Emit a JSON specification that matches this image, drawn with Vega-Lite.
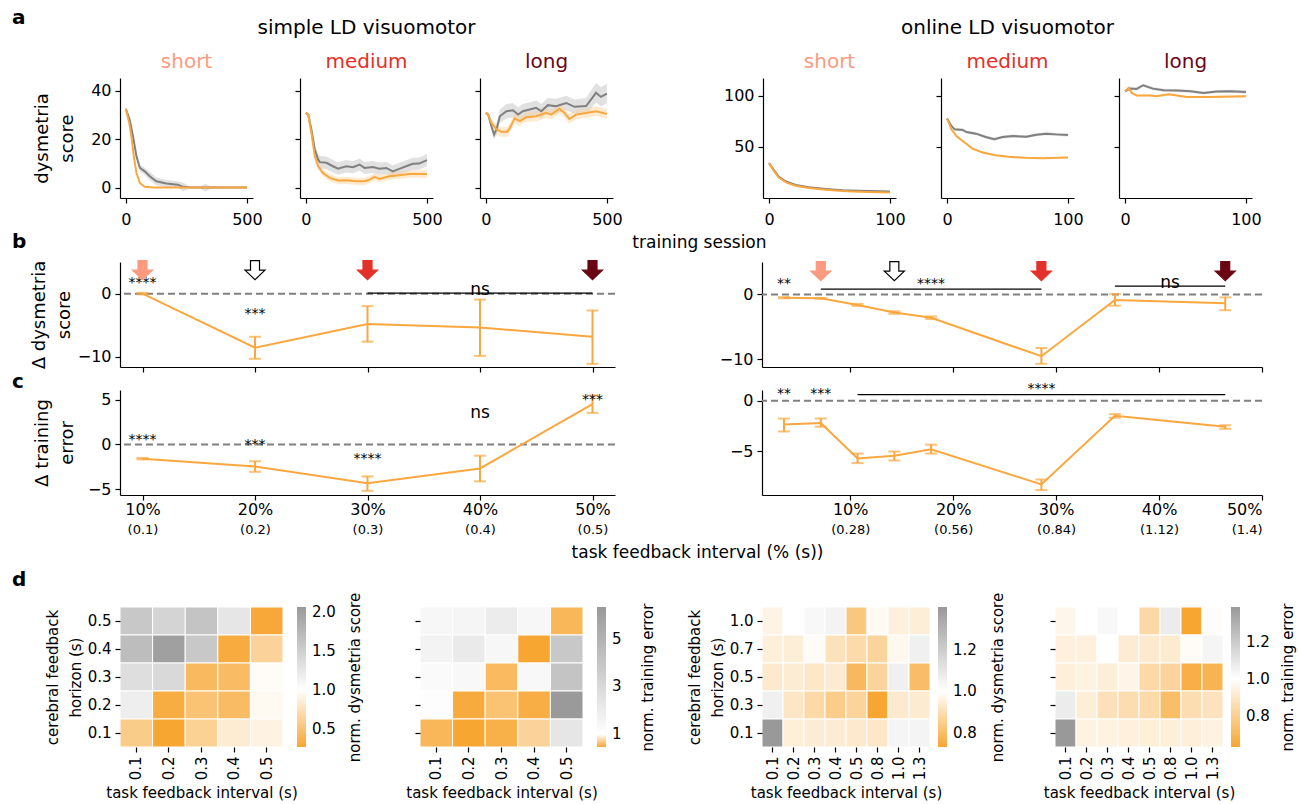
{
"$schema":"https://vega.github.io/schema/vega-lite/v6.json",
"background":"white",
"padding":{"left":12,"top":8,"right":2,"bottom":2},
"title":{"text":"a","anchor":"start","frame":"group","dx":-108,"fontWeight":"bold","fontSize":20,"offset":-10},
"config":{
 "font":"DejaVu Sans",
 "view":{"stroke":null},
 "axis":{"labelFont":"DejaVu Sans","labelFontSize":16,"labelColor":"#000","titleFont":"DejaVu Sans","titleFontSize":17,"titleFontWeight":"normal","titleColor":"#000","tickColor":"#000","domainColor":"#000","grid":false,"tickSize":5,"labelPadding":4,"domainWidth":1.2,"tickWidth":1.2},
 "title":{"font":"DejaVu Sans","fontSize":20,"fontWeight":"normal","color":"#000","subtitleFont":"DejaVu Sans","frame":"group"},
 "legend":{"labelFont":"DejaVu Sans","labelFontSize":15,"labelColor":"#000"},
 "text":{"font":"DejaVu Sans"}
},
"datasets":{
"s_short":[
{"model":"grey","t":0,"m":32.5,"lo":32,"hi":33},{"model":"grey","t":16,"m":28,"lo":27.2,"hi":28.8},{"model":"grey","t":30,"m":21,"lo":20,"hi":22},{"model":"grey","t":44,"m":12.9,"lo":11.7,"hi":14.1},{"model":"grey","t":58,"m":8.1,"lo":6.8,"hi":9.4},{"model":"grey","t":78,"m":6.7,"lo":5.2,"hi":8.2},{"model":"grey","t":99,"m":4.7,"lo":3,"hi":6.4},{"model":"grey","t":126,"m":2.6,"lo":1,"hi":4.2},{"model":"grey","t":167,"m":1.65,"lo":0.2,"hi":3.1},{"model":"grey","t":215,"m":1.2,"lo":-0.2,"hi":2.6},{"model":"grey","t":236,"m":0.3,"lo":-1.5,"hi":2},{"model":"grey","t":260,"m":0.1,"lo":-0.6,"hi":0.8},{"model":"grey","t":304,"m":0,"lo":-0.4,"hi":0.4},{"model":"grey","t":330,"m":0,"lo":-1.6,"hi":1.6},{"model":"grey","t":350,"m":0,"lo":-0.4,"hi":0.4},{"model":"grey","t":400,"m":0,"lo":-0.2,"hi":0.2},{"model":"grey","t":500,"m":0,"lo":-0.1,"hi":0.1},
{"model":"orange","t":0,"m":32.5,"lo":32.2,"hi":32.8},{"model":"orange","t":14,"m":26.7,"lo":26.3,"hi":27.1},{"model":"orange","t":23,"m":21.2,"lo":20.7,"hi":21.7},{"model":"orange","t":33,"m":12.9,"lo":12.4,"hi":13.4},{"model":"orange","t":44,"m":6,"lo":5.6,"hi":6.4},{"model":"orange","t":58,"m":1.9,"lo":1.6,"hi":2.2},{"model":"orange","t":78,"m":0.3,"lo":0.1,"hi":0.5},{"model":"orange","t":112,"m":0,"lo":-0.1,"hi":0.1},{"model":"orange","t":200,"m":0,"lo":-0.1,"hi":0.1},{"model":"orange","t":300,"m":0,"lo":-0.1,"hi":0.1},{"model":"orange","t":400,"m":0,"lo":-0.1,"hi":0.1},{"model":"orange","t":500,"m":0,"lo":-0.1,"hi":0.1}],
"s_medium":[
{"model":"grey","t":0,"m":30.8,"lo":30.3,"hi":31.3},{"model":"grey","t":10,"m":30.1,"lo":29.4,"hi":30.8},{"model":"grey","t":23,"m":24,"lo":22.8,"hi":25.2},{"model":"grey","t":37,"m":15.7,"lo":13.9,"hi":17.5},{"model":"grey","t":51,"m":11.6,"lo":9.4,"hi":13.8},{"model":"grey","t":58,"m":10.5,"lo":8,"hi":13},{"model":"grey","t":85,"m":10.2,"lo":7.6,"hi":12.8},{"model":"grey","t":112,"m":8.8,"lo":6.2,"hi":11.4},{"model":"grey","t":133,"m":7.8,"lo":5.3,"hi":10.3},{"model":"grey","t":167,"m":8.8,"lo":6.2,"hi":11.4},{"model":"grey","t":195,"m":8.4,"lo":5.9,"hi":10.9},{"model":"grey","t":222,"m":9.5,"lo":7,"hi":12},{"model":"grey","t":242,"m":8.1,"lo":5.6,"hi":10.6},{"model":"grey","t":277,"m":8.5,"lo":6,"hi":11},{"model":"grey","t":304,"m":7.8,"lo":5.3,"hi":10.3},{"model":"grey","t":332,"m":8.1,"lo":5.6,"hi":10.6},{"model":"grey","t":359,"m":6.7,"lo":4.2,"hi":9.2},{"model":"grey","t":386,"m":7.7,"lo":5.2,"hi":10.2},{"model":"grey","t":414,"m":8.8,"lo":6.3,"hi":11.3},{"model":"grey","t":441,"m":9.8,"lo":7.3,"hi":12.3},{"model":"grey","t":468,"m":9.9,"lo":7.4,"hi":12.4},{"model":"grey","t":500,"m":11.3,"lo":8.8,"hi":13.8},
{"model":"orange","t":0,"m":30.8,"lo":30.5,"hi":31.1},{"model":"orange","t":10,"m":30.1,"lo":29.6,"hi":30.6},{"model":"orange","t":23,"m":22.6,"lo":21.8,"hi":23.4},{"model":"orange","t":37,"m":12.9,"lo":11.9,"hi":13.9},{"model":"orange","t":51,"m":8.8,"lo":7.5,"hi":10.1},{"model":"orange","t":71,"m":6,"lo":4.6,"hi":7.4},{"model":"orange","t":99,"m":4,"lo":2.5,"hi":5.5},{"model":"orange","t":133,"m":2.9,"lo":1.4,"hi":4.4},{"model":"orange","t":167,"m":3,"lo":1.5,"hi":4.5},{"model":"orange","t":208,"m":2.6,"lo":1.1,"hi":4.1},{"model":"orange","t":242,"m":2.6,"lo":1.1,"hi":4.1},{"model":"orange","t":263,"m":3.3,"lo":1.8,"hi":4.8},{"model":"orange","t":284,"m":4.4,"lo":2.9,"hi":5.9},{"model":"orange","t":304,"m":3.6,"lo":2.1,"hi":5.1},{"model":"orange","t":345,"m":4.7,"lo":3.2,"hi":6.2},{"model":"orange","t":386,"m":5.1,"lo":3.6,"hi":6.6},{"model":"orange","t":427,"m":5.6,"lo":4.1,"hi":7.1},{"model":"orange","t":500,"m":5.6,"lo":4.1,"hi":7.1}],
"s_long":[
{"model":"grey","t":0,"m":30.8,"lo":30.3,"hi":31.3},{"model":"grey","t":10,"m":30.1,"lo":29.3,"hi":30.9},{"model":"grey","t":23,"m":25.3,"lo":23.8,"hi":26.8},{"model":"grey","t":34,"m":21.9,"lo":20,"hi":23.8},{"model":"grey","t":44,"m":24,"lo":21.5,"hi":26.5},{"model":"grey","t":58,"m":29.4,"lo":26.6,"hi":32.2},{"model":"grey","t":85,"m":31.5,"lo":28.5,"hi":34.5},{"model":"grey","t":112,"m":31.9,"lo":28.9,"hi":34.9},{"model":"grey","t":133,"m":30.1,"lo":27.1,"hi":33.1},{"model":"grey","t":153,"m":31.5,"lo":28.5,"hi":34.5},{"model":"grey","t":181,"m":32.2,"lo":29.2,"hi":35.2},{"model":"grey","t":208,"m":32.9,"lo":29.9,"hi":35.9},{"model":"grey","t":229,"m":31.5,"lo":28.5,"hi":34.5},{"model":"grey","t":256,"m":34,"lo":31,"hi":37},{"model":"grey","t":290,"m":33.6,"lo":30.6,"hi":36.6},{"model":"grey","t":332,"m":34.9,"lo":31.9,"hi":37.9},{"model":"grey","t":366,"m":33.3,"lo":30.3,"hi":36.3},{"model":"grey","t":414,"m":33.6,"lo":30.3,"hi":36.9},{"model":"grey","t":434,"m":36.3,"lo":32.6,"hi":40},{"model":"grey","t":455,"m":39.1,"lo":35.1,"hi":43.1},{"model":"grey","t":475,"m":37.4,"lo":33.4,"hi":41.4},{"model":"grey","t":500,"m":38.8,"lo":34.8,"hi":42.8},
{"model":"orange","t":0,"m":30.8,"lo":30.5,"hi":31.1},{"model":"orange","t":10,"m":30.1,"lo":29.5,"hi":30.7},{"model":"orange","t":23,"m":26.7,"lo":25.3,"hi":28.1},{"model":"orange","t":44,"m":24,"lo":22,"hi":26},{"model":"orange","t":64,"m":23,"lo":21,"hi":25},{"model":"orange","t":89,"m":23,"lo":21,"hi":25},{"model":"orange","t":99,"m":24.6,"lo":22.6,"hi":26.6},{"model":"orange","t":119,"m":28.5,"lo":26.5,"hi":30.5},{"model":"orange","t":140,"m":27.4,"lo":25.4,"hi":29.4},{"model":"orange","t":167,"m":29,"lo":27,"hi":31},{"model":"orange","t":208,"m":29.4,"lo":27.4,"hi":31.4},{"model":"orange","t":249,"m":30.8,"lo":28.8,"hi":32.8},{"model":"orange","t":270,"m":30.1,"lo":28.1,"hi":32.1},{"model":"orange","t":304,"m":32.5,"lo":30.5,"hi":34.5},{"model":"orange","t":325,"m":30.8,"lo":28.8,"hi":32.8},{"model":"orange","t":345,"m":28.3,"lo":26.3,"hi":30.3},{"model":"orange","t":373,"m":30.1,"lo":28.1,"hi":32.1},{"model":"orange","t":414,"m":30.8,"lo":28.8,"hi":32.8},{"model":"orange","t":455,"m":31.5,"lo":29.5,"hi":33.5},{"model":"orange","t":500,"m":30.4,"lo":28.4,"hi":32.4}],
"o_short":[
{"model":"grey","t":0,"m":34.2,"lo":33.6,"hi":34.8},{"model":"grey","t":4,"m":27.4,"lo":26.8,"hi":28},{"model":"grey","t":8,"m":20.9,"lo":20.3,"hi":21.5},{"model":"grey","t":14,"m":16.1,"lo":15.5,"hi":16.7},{"model":"grey","t":22,"m":12.8,"lo":12.2,"hi":13.4},{"model":"grey","t":33,"m":10.5,"lo":9.9,"hi":11.1},{"model":"grey","t":47,"m":8.9,"lo":8.3,"hi":9.5},{"model":"grey","t":61,"m":7.6,"lo":7,"hi":8.2},{"model":"grey","t":74,"m":7,"lo":6.4,"hi":7.6},{"model":"grey","t":100,"m":6.3,"lo":5.7,"hi":6.9},
{"model":"orange","t":0,"m":34,"lo":33.6,"hi":34.4},{"model":"orange","t":4,"m":26.6,"lo":26.2,"hi":27},{"model":"orange","t":8,"m":20.1,"lo":19.7,"hi":20.5},{"model":"orange","t":14,"m":15.3,"lo":14.9,"hi":15.7},{"model":"orange","t":22,"m":12,"lo":11.6,"hi":12.4},{"model":"orange","t":33,"m":9.7,"lo":9.3,"hi":10.1},{"model":"orange","t":47,"m":8.1,"lo":7.7,"hi":8.5},{"model":"orange","t":61,"m":6.8,"lo":6.4,"hi":7.2},{"model":"orange","t":74,"m":6.2,"lo":5.8,"hi":6.6},{"model":"orange","t":100,"m":5.5,"lo":5.1,"hi":5.9}],
"o_medium":[
{"model":"grey","t":0,"m":77.9,"lo":77.2,"hi":78.6},{"model":"grey","t":3.6,"m":70.5,"lo":69.5,"hi":71.5},{"model":"grey","t":6.3,"m":67.2,"lo":66,"hi":68.4},{"model":"grey","t":13,"m":66.6,"lo":65.2,"hi":68},{"model":"grey","t":16,"m":64.6,"lo":63.1,"hi":66.1},{"model":"grey","t":24,"m":63,"lo":61.5,"hi":64.5},{"model":"grey","t":32,"m":59.7,"lo":58.2,"hi":61.2},{"model":"grey","t":39,"m":57.5,"lo":56,"hi":59},{"model":"grey","t":46,"m":59.7,"lo":58.2,"hi":61.2},{"model":"grey","t":54.5,"m":60.7,"lo":59.2,"hi":62.2},{"model":"grey","t":65.6,"m":60,"lo":58.5,"hi":61.5},{"model":"grey","t":73.8,"m":62,"lo":60.5,"hi":63.5},{"model":"grey","t":82,"m":63,"lo":61.5,"hi":64.5},{"model":"grey","t":90,"m":62.3,"lo":60.8,"hi":63.8},{"model":"grey","t":100,"m":61.7,"lo":60.2,"hi":63.2},
{"model":"orange","t":0,"m":77.9,"lo":77.4,"hi":78.4},{"model":"orange","t":3.6,"m":67.2,"lo":66.5,"hi":67.9},{"model":"orange","t":7.7,"m":60.7,"lo":59.9,"hi":61.5},{"model":"orange","t":13,"m":55.8,"lo":55,"hi":56.6},{"model":"orange","t":21,"m":48.4,"lo":47.6,"hi":49.2},{"model":"orange","t":29.5,"m":44.5,"lo":43.7,"hi":45.3},{"model":"orange","t":40,"m":41.9,"lo":41.1,"hi":42.7},{"model":"orange","t":51,"m":40.3,"lo":39.5,"hi":41.1},{"model":"orange","t":65,"m":39.3,"lo":38.5,"hi":40.1},{"model":"orange","t":79,"m":39,"lo":38.2,"hi":39.8},{"model":"orange","t":100,"m":39.6,"lo":38.8,"hi":40.4}],
"o_long":[
{"model":"grey","t":0,"m":104.5,"lo":103.5,"hi":105.5},{"model":"grey","t":4,"m":107.1,"lo":105.6,"hi":108.6},{"model":"grey","t":9.6,"m":106.8,"lo":105.3,"hi":108.3},{"model":"grey","t":15,"m":110.4,"lo":108.9,"hi":111.9},{"model":"grey","t":23,"m":107.1,"lo":105.6,"hi":108.6},{"model":"grey","t":32,"m":105.5,"lo":104,"hi":107},{"model":"grey","t":43,"m":105.2,"lo":103.7,"hi":106.7},{"model":"grey","t":54,"m":104.5,"lo":103,"hi":106},{"model":"grey","t":65,"m":102.9,"lo":101.4,"hi":104.4},{"model":"grey","t":76,"m":104.2,"lo":102.7,"hi":105.7},{"model":"grey","t":87,"m":104.5,"lo":103,"hi":106},{"model":"grey","t":100,"m":103.9,"lo":102.4,"hi":105.4},
{"model":"orange","t":0,"m":104.5,"lo":103.8,"hi":105.2},{"model":"orange","t":3,"m":107.8,"lo":106.8,"hi":108.8},{"model":"orange","t":5.5,"m":102.9,"lo":101.9,"hi":103.9},{"model":"orange","t":9.6,"m":100.3,"lo":99.3,"hi":101.3},{"model":"orange","t":20.7,"m":100.3,"lo":99.3,"hi":101.3},{"model":"orange","t":26,"m":99.7,"lo":98.7,"hi":100.7},{"model":"orange","t":36,"m":101.6,"lo":100.6,"hi":102.6},{"model":"orange","t":43,"m":100.3,"lo":99.3,"hi":101.3},{"model":"orange","t":51,"m":99,"lo":98,"hi":100},{"model":"orange","t":70,"m":99,"lo":98,"hi":100},{"model":"orange","t":100,"m":99.7,"lo":98.7,"hi":100.7}],
"b_s":[{"x":10,"m":0,"lo":-0.12,"hi":0.12},{"x":20,"m":-8.54,"lo":-10.3,"hi":-6.82},{"x":30,"m":-4.79,"lo":-7.6,"hi":-1.98},{"x":40,"m":-5.36,"lo":-9.84,"hi":-0.94},{"x":50,"m":-6.82,"lo":-11.1,"hi":-2.66}],
"b_o":[{"x":3.571,"m":-0.51,"lo":-0.6,"hi":-0.42},{"x":7.143,"m":-0.61,"lo":-0.68,"hi":-0.54},{"x":10.714,"m":-1.62,"lo":-1.77,"hi":-1.47},{"x":14.286,"m":-2.79,"lo":-2.99,"hi":-2.6},{"x":17.857,"m":-3.6,"lo":-3.8,"hi":-3.4},{"x":28.571,"m":-9.54,"lo":-10.7,"hi":-8.27},{"x":35.714,"m":-0.86,"lo":-1.73,"hi":0.05},{"x":46.429,"m":-1.37,"lo":-2.44,"hi":-0.46}],
"c_s":[{"x":10,"m":-1.58,"lo":-1.66,"hi":-1.5},{"x":20,"m":-2.45,"lo":-3.04,"hi":-1.87},{"x":30,"m":-4.32,"lo":-5.16,"hi":-3.55},{"x":40,"m":-2.67,"lo":-4.1,"hi":-1.25},{"x":50,"m":4.5,"lo":3.52,"hi":5.46}],
"c_o":[{"x":3.571,"m":-2.35,"lo":-3.04,"hi":-1.76},{"x":7.143,"m":-2.19,"lo":-2.58,"hi":-1.76},{"x":10.714,"m":-5.72,"lo":-6.18,"hi":-5.23},{"x":14.286,"m":-5.46,"lo":-5.92,"hi":-5.03},{"x":17.857,"m":-4.8,"lo":-5.23,"hi":-4.35},{"x":28.571,"m":-8.3,"lo":-8.86,"hi":-7.81},{"x":35.714,"m":-1.47,"lo":-1.67,"hi":-1.31},{"x":46.429,"m":-2.58,"lo":-2.78,"hi":-2.42}],
"ann_b_s":[{"x":10,"y":2.1,"label":"****"},{"x":20,"y":-2.7,"label":"***"},{"x":40,"y":1.1,"label":"ns"}],
"ann_b_o":[{"x":3.571,"y":2.0,"label":"**"},{"x":17.857,"y":2.0,"label":"****"},{"x":41.07,"y":2.28,"label":"ns"}],
"ann_c_s":[{"x":10,"y":0.88,"label":"****"},{"x":20,"y":0.3,"label":"***"},{"x":30,"y":-1.28,"label":"****"},{"x":40,"y":3.85,"label":"ns"},{"x":50,"y":5.24,"label":"***"}],
"ann_c_o":[{"x":3.571,"y":0.95,"label":"**"},{"x":7.143,"y":0.95,"label":"***"},{"x":28.571,"y":1.44,"label":"****"}],
"brk_b_s":[{"x":30,"x2":50,"y":0.08}],
"brk_b_o":[{"x":7.143,"x2":28.571,"y":0.81},{"x":35.714,"x2":46.429,"y":1.27}],
"brk_c_o":[{"x":10.714,"x2":46.429,"y":0.62}],
"arr_b_s":[{"x":10,"y":3.7,"kind":"short"},{"x":20,"y":3.7,"kind":"none"},{"x":30,"y":3.7,"kind":"medium"},{"x":50,"y":3.7,"kind":"long"}],
"arr_b_o":[{"x":7.143,"y":3.6,"kind":"short"},{"x":14.286,"y":3.6,"kind":"none"},{"x":28.571,"y":3.6,"kind":"medium"},{"x":46.429,"y":3.6,"kind":"long"}],
"h1":[
{"fx":"0.1","hz":"0.5","v":1.57},{"fx":"0.2","hz":"0.5","v":1.45},{"fx":"0.3","hz":"0.5","v":1.61},{"fx":"0.4","hz":"0.5","v":1.26},{"fx":"0.5","hz":"0.5","v":0.29},
{"fx":"0.1","hz":"0.4","v":1.69},{"fx":"0.2","hz":"0.4","v":1.99},{"fx":"0.3","hz":"0.4","v":1.57},{"fx":"0.4","hz":"0.4","v":0.32},{"fx":"0.5","hz":"0.4","v":0.64},
{"fx":"0.1","hz":"0.3","v":1.34},{"fx":"0.2","hz":"0.3","v":1.39},{"fx":"0.3","hz":"0.3","v":0.43},{"fx":"0.4","hz":"0.3","v":0.45},{"fx":"0.5","hz":"0.3","v":0.97},
{"fx":"0.1","hz":"0.2","v":1.18},{"fx":"0.2","hz":"0.2","v":0.33},{"fx":"0.3","hz":"0.2","v":0.5},{"fx":"0.4","hz":"0.2","v":0.45},{"fx":"0.5","hz":"0.2","v":0.95},
{"fx":"0.1","hz":"0.1","v":0.58},{"fx":"0.2","hz":"0.1","v":0.27},{"fx":"0.3","hz":"0.1","v":0.62},{"fx":"0.4","hz":"0.1","v":0.84},{"fx":"0.5","hz":"0.1","v":0.9}],
"h2":[
{"fx":"0.1","hz":"0.5","v":1.42},{"fx":"0.2","hz":"0.5","v":1.52},{"fx":"0.3","hz":"0.5","v":1.99},{"fx":"0.4","hz":"0.5","v":1.42},{"fx":"0.5","hz":"0.5","v":0.57},
{"fx":"0.1","hz":"0.4","v":1.62},{"fx":"0.2","hz":"0.4","v":2.09},{"fx":"0.3","hz":"0.4","v":1.42},{"fx":"0.4","hz":"0.4","v":0.47},{"fx":"0.5","hz":"0.4","v":3.86},
{"fx":"0.1","hz":"0.3","v":1.26},{"fx":"0.2","hz":"0.3","v":1.36},{"fx":"0.3","hz":"0.3","v":0.59},{"fx":"0.4","hz":"0.3","v":1.36},{"fx":"0.5","hz":"0.3","v":4.07},
{"fx":"0.1","hz":"0.2","v":1.1},{"fx":"0.2","hz":"0.2","v":0.5},{"fx":"0.3","hz":"0.2","v":0.64},{"fx":"0.4","hz":"0.2","v":0.52},{"fx":"0.5","hz":"0.2","v":6.25},
{"fx":"0.1","hz":"0.1","v":0.57},{"fx":"0.2","hz":"0.1","v":0.47},{"fx":"0.3","hz":"0.1","v":0.53},{"fx":"0.4","hz":"0.1","v":0.74},{"fx":"0.5","hz":"0.1","v":2.3}],
"h3":[
{"fx":"0.1","hz":"1.0","v":0.964},{"fx":"0.2","hz":"1.0","v":1.0},{"fx":"0.3","hz":"1.0","v":1.03},{"fx":"0.4","hz":"1.0","v":1.05},{"fx":"0.5","hz":"1.0","v":0.83},{"fx":"0.8","hz":"1.0","v":0.985},{"fx":"1.0","hz":"1.0","v":0.954},{"fx":"1.3","hz":"1.0","v":0.947},
{"fx":"0.1","hz":"0.7","v":0.952},{"fx":"0.2","hz":"0.7","v":0.947},{"fx":"0.3","hz":"0.7","v":0.99},{"fx":"0.4","hz":"0.7","v":0.911},{"fx":"0.5","hz":"0.7","v":0.887},{"fx":"0.8","hz":"0.7","v":0.87},{"fx":"1.0","hz":"0.7","v":0.978},{"fx":"1.3","hz":"0.7","v":1.06},
{"fx":"0.1","hz":"0.5","v":0.935},{"fx":"0.2","hz":"0.5","v":0.943},{"fx":"0.3","hz":"0.5","v":0.926},{"fx":"0.4","hz":"0.5","v":0.94},{"fx":"0.5","hz":"0.5","v":0.786},{"fx":"0.8","hz":"0.5","v":0.87},{"fx":"1.0","hz":"0.5","v":1.06},{"fx":"1.3","hz":"0.5","v":0.8},
{"fx":"0.1","hz":"0.3","v":1.06},{"fx":"0.2","hz":"0.3","v":0.923},{"fx":"0.3","hz":"0.3","v":0.884},{"fx":"0.4","hz":"0.3","v":0.847},{"fx":"0.5","hz":"0.3","v":0.87},{"fx":"0.8","hz":"0.3","v":0.73},{"fx":"1.0","hz":"0.3","v":0.935},{"fx":"1.3","hz":"0.3","v":0.94},
{"fx":"0.1","hz":"0.1","v":1.41},{"fx":"0.2","hz":"0.1","v":0.95},{"fx":"0.3","hz":"0.1","v":0.943},{"fx":"0.4","hz":"0.1","v":0.943},{"fx":"0.5","hz":"0.1","v":0.932},{"fx":"0.8","hz":"0.1","v":0.928},{"fx":"1.0","hz":"0.1","v":1.04},{"fx":"1.3","hz":"0.1","v":1.044}],
"h4":[
{"fx":"0.1","hz":"1.0","v":0.963},{"fx":"0.2","hz":"1.0","v":1.0},{"fx":"0.3","hz":"1.0","v":1.027},{"fx":"0.4","hz":"1.0","v":1.0},{"fx":"0.5","hz":"1.0","v":0.837},{"fx":"0.8","hz":"1.0","v":1.073},{"fx":"1.0","hz":"1.0","v":0.63},{"fx":"1.3","hz":"1.0","v":0.993},
{"fx":"0.1","hz":"0.7","v":0.939},{"fx":"0.2","hz":"0.7","v":0.939},{"fx":"0.3","hz":"0.7","v":1.0},{"fx":"0.4","hz":"0.7","v":0.921},{"fx":"0.5","hz":"0.7","v":0.909},{"fx":"0.8","hz":"0.7","v":0.916},{"fx":"1.0","hz":"0.7","v":0.985},{"fx":"1.3","hz":"0.7","v":1.038},
{"fx":"0.1","hz":"0.5","v":0.934},{"fx":"0.2","hz":"0.5","v":0.945},{"fx":"0.3","hz":"0.5","v":0.93},{"fx":"0.4","hz":"0.5","v":0.959},{"fx":"0.5","hz":"0.5","v":0.84},{"fx":"0.8","hz":"0.5","v":0.823},{"fx":"1.0","hz":"0.5","v":0.667},{"fx":"1.3","hz":"0.5","v":0.69},
{"fx":"0.1","hz":"0.3","v":1.073},{"fx":"0.2","hz":"0.3","v":0.93},{"fx":"0.3","hz":"0.3","v":0.873},{"fx":"0.4","hz":"0.3","v":0.859},{"fx":"0.5","hz":"0.3","v":0.845},{"fx":"0.8","hz":"0.3","v":0.728},{"fx":"1.0","hz":"0.3","v":0.86},{"fx":"1.3","hz":"0.3","v":0.882},
{"fx":"0.1","hz":"0.1","v":1.39},{"fx":"0.2","hz":"0.1","v":0.946},{"fx":"0.3","hz":"0.1","v":0.946},{"fx":"0.4","hz":"0.1","v":0.939},{"fx":"0.5","hz":"0.1","v":0.932},{"fx":"0.8","hz":"0.1","v":0.932},{"fx":"1.0","hz":"0.1","v":0.934},{"fx":"1.3","hz":"0.1","v":0.945}]
},
"resolve":{"scale":{"color":"independent","fill":"independent","stroke":"independent"},"legend":{"color":"independent","fill":"independent","stroke":"independent"}},
"spacing":-19,
"vconcat":[
{"spacing":100,"title":{"text":"training session","orient":"bottom","anchor":"middle","frame":"bounds","dx":52,"fontSize":17,"offset":8},
 "resolve":{"scale":{"color":"independent","fill":"independent","stroke":"independent"},"legend":{"color":"independent","fill":"independent","stroke":"independent"}},
 "hconcat":[
 {"spacing":47,"bounds":"flush","resolve":{"scale":{"fill":"independent","stroke":"independent"},"legend":{"fill":"independent","stroke":"independent"}},"hconcat":[
  {"width":133,"height":120,"title":{"text":"short","color":"#fc9a80","offset":6},"data":{"name":"s_short"},
   "encoding":{"x":{"field":"t","type":"quantitative","scale":{"domain":[-24,525],"nice":false,"zero":false},"axis":{"values":[0,500],"title":null,"labelPadding":8}}},
   "layer":[
    {"mark":{"type":"area","opacity":0.45},"encoding":{"y":{"field":"lo","type":"quantitative","scale":{"domain":[-4.3,45.2],"nice":false,"zero":false},"axis":{"values":[0,20,40],"title":["dysmetria","score"],"titleFontSize":18,"titleLineHeight":25,"titlePadding":14}},"y2":{"field":"hi"},"fill":{"field":"model","type":"nominal","scale":{"domain":["grey","orange"],"range":["#bdbdbd","#fbd29a"]},"legend":null}}},
    {"mark":{"type":"line","strokeWidth":2},"encoding":{"y":{"field":"m","type":"quantitative","scale":{"domain":[-4.3,45.2],"nice":false,"zero":false},"axis":{"values":[0,20,40],"title":["dysmetria","score"],"titleFontSize":18,"titleLineHeight":25,"titlePadding":14}},"stroke":{"field":"model","type":"nominal","scale":{"domain":["grey","orange"],"range":["#808080","#f9a73e"]},"legend":null}}}
   ]},
  {"width":133,"height":120,"title":{"text":"simple LD visuomotor","subtitle":"medium","subtitleColor":"#e3302a","subtitleFontSize":20,"subtitlePadding":14,"offset":6},"data":{"name":"s_medium"},
   "encoding":{"x":{"field":"t","type":"quantitative","scale":{"domain":[-24,525],"nice":false,"zero":false},"axis":{"values":[0,500],"title":null,"labelPadding":8}}},
   "layer":[
    {"mark":{"type":"area","opacity":0.45},"encoding":{"y":{"field":"lo","type":"quantitative","scale":{"domain":[-4.3,45.2],"nice":false,"zero":false},"axis":{"values":[0,20,40],"labels":false,"title":null}},"y2":{"field":"hi"},"fill":{"field":"model","type":"nominal","scale":{"domain":["grey","orange"],"range":["#bdbdbd","#fbd29a"]},"legend":null}}},
    {"mark":{"type":"line","strokeWidth":2},"encoding":{"y":{"field":"m","type":"quantitative","scale":{"domain":[-4.3,45.2],"nice":false,"zero":false},"axis":{"values":[0,20,40],"labels":false,"title":null}},"stroke":{"field":"model","type":"nominal","scale":{"domain":["grey","orange"],"range":["#808080","#f9a73e"]},"legend":null}}}
   ]},
  {"width":133,"height":120,"title":{"text":"long","color":"#6a0613","offset":6},"data":{"name":"s_long"},
   "encoding":{"x":{"field":"t","type":"quantitative","scale":{"domain":[-24,525],"nice":false,"zero":false},"axis":{"values":[0,500],"title":null,"labelPadding":8}}},
   "layer":[
    {"mark":{"type":"area","opacity":0.45},"encoding":{"y":{"field":"lo","type":"quantitative","scale":{"domain":[-4.3,45.2],"nice":false,"zero":false},"axis":{"values":[0,20,40],"labels":false,"title":null}},"y2":{"field":"hi"},"fill":{"field":"model","type":"nominal","scale":{"domain":["grey","orange"],"range":["#bdbdbd","#fbd29a"]},"legend":null}}},
    {"mark":{"type":"line","strokeWidth":2},"encoding":{"y":{"field":"m","type":"quantitative","scale":{"domain":[-4.3,45.2],"nice":false,"zero":false},"axis":{"values":[0,20,40],"labels":false,"title":null}},"stroke":{"field":"model","type":"nominal","scale":{"domain":["grey","orange"],"range":["#808080","#f9a73e"]},"legend":null}}}
   ]}
 ]},
 {"spacing":45,"bounds":"flush","resolve":{"scale":{"fill":"independent","stroke":"independent"},"legend":{"fill":"independent","stroke":"independent"}},"hconcat":[
  {"width":133,"height":120,"title":{"text":"short","color":"#fc9a80","offset":6},"data":{"name":"o_short"},
   "encoding":{"x":{"field":"t","type":"quantitative","scale":{"domain":[-5,105],"nice":false,"zero":false},"axis":{"values":[0,100],"title":null,"labelPadding":8}}},
   "layer":[
    {"mark":{"type":"area","opacity":0.45},"encoding":{"y":{"field":"lo","type":"quantitative","scale":{"domain":[0,117.5],"nice":false,"zero":false},"axis":{"values":[50,100],"title":null}},"y2":{"field":"hi"},"fill":{"field":"model","type":"nominal","scale":{"domain":["grey","orange"],"range":["#bdbdbd","#fbd29a"]},"legend":null}}},
    {"mark":{"type":"line","strokeWidth":2},"encoding":{"y":{"field":"m","type":"quantitative","scale":{"domain":[0,117.5],"nice":false,"zero":false},"axis":{"values":[50,100],"title":null}},"stroke":{"field":"model","type":"nominal","scale":{"domain":["grey","orange"],"range":["#808080","#f9a73e"]},"legend":null}}}
   ]},
  {"width":133,"height":120,"title":{"text":"online LD visuomotor","subtitle":"medium","subtitleColor":"#e3302a","subtitleFontSize":20,"subtitlePadding":14,"offset":6},"data":{"name":"o_medium"},
   "encoding":{"x":{"field":"t","type":"quantitative","scale":{"domain":[-5,105],"nice":false,"zero":false},"axis":{"values":[0,100],"title":null,"labelPadding":8}}},
   "layer":[
    {"mark":{"type":"area","opacity":0.45},"encoding":{"y":{"field":"lo","type":"quantitative","scale":{"domain":[0,117.5],"nice":false,"zero":false},"axis":{"values":[50,100],"labels":false,"title":null}},"y2":{"field":"hi"},"fill":{"field":"model","type":"nominal","scale":{"domain":["grey","orange"],"range":["#bdbdbd","#fbd29a"]},"legend":null}}},
    {"mark":{"type":"line","strokeWidth":2},"encoding":{"y":{"field":"m","type":"quantitative","scale":{"domain":[0,117.5],"nice":false,"zero":false},"axis":{"values":[50,100],"labels":false,"title":null}},"stroke":{"field":"model","type":"nominal","scale":{"domain":["grey","orange"],"range":["#808080","#f9a73e"]},"legend":null}}}
   ]},
  {"width":133,"height":120,"title":{"text":"long","color":"#6a0613","offset":6},"data":{"name":"o_long"},
   "encoding":{"x":{"field":"t","type":"quantitative","scale":{"domain":[-5,105],"nice":false,"zero":false},"axis":{"values":[0,100],"title":null,"labelPadding":8}}},
   "layer":[
    {"mark":{"type":"area","opacity":0.45},"encoding":{"y":{"field":"lo","type":"quantitative","scale":{"domain":[0,117.5],"nice":false,"zero":false},"axis":{"values":[50,100],"labels":false,"title":null}},"y2":{"field":"hi"},"fill":{"field":"model","type":"nominal","scale":{"domain":["grey","orange"],"range":["#bdbdbd","#fbd29a"]},"legend":null}}},
    {"mark":{"type":"line","strokeWidth":2},"encoding":{"y":{"field":"m","type":"quantitative","scale":{"domain":[0,117.5],"nice":false,"zero":false},"axis":{"values":[50,100],"labels":false,"title":null}},"stroke":{"field":"model","type":"nominal","scale":{"domain":["grey","orange"],"range":["#808080","#f9a73e"]},"legend":null}}}
   ]}
 ]}
]},
{"spacing":-1,
 "resolve":{"scale":{"color":"independent","fill":"independent","stroke":"independent"},"legend":{"color":"independent","fill":"independent","stroke":"independent"}},
 "vconcat":[
 {"spacing":147,"bounds":"flush",
  "resolve":{"scale":{"fill":"independent","stroke":"independent"},"legend":{"fill":"independent","stroke":"independent"}},
  "hconcat":[
  {"width":495,"height":105,"title":{"text":"b","anchor":"start","frame":"group","dx":-108,"fontWeight":"bold","fontSize":20,"offset":6},
   "encoding":{"x":{"field":"x","type":"quantitative","scale":{"domain":[8,52],"nice":false,"zero":false},"axis":{"values":[10,20,30,40,50],"labels":false,"title":null}}},
   "layer":[
    {"data":{"values":[{}]},"mark":{"type":"rule","color":"#808080","strokeWidth":2,"strokeDash":[7,4]},"encoding":{"x":null,"y":{"datum":0,"type":"quantitative","scale":{"domain":[-11.6,5.0],"nice":false,"zero":false},"axis":{"values":[-10,0],"title":["Δ dysmetria","score"],"titleFontSize":18,"titleLineHeight":25,"titlePadding":4}}}},
    {"data":{"name":"b_s"},"mark":{"type":"line","color":"#f9a73e","strokeWidth":2},"encoding":{"y":{"field":"m","type":"quantitative","scale":{"domain":[-11.6,5.0],"nice":false,"zero":false},"axis":{"values":[-10,0],"title":["Δ dysmetria","score"],"titleFontSize":18,"titleLineHeight":25,"titlePadding":4}}}},
    {"data":{"name":"b_s"},"mark":{"type":"errorbar","ticks":{"size":12},"thickness":2,"color":"#f9a73e"},"encoding":{"y":{"field":"lo","type":"quantitative","scale":{"domain":[-11.6,5.0],"nice":false,"zero":false},"axis":{"values":[-10,0],"title":["Δ dysmetria","score"],"titleFontSize":18,"titleLineHeight":25,"titlePadding":4}},"y2":{"field":"hi"}}},
    {"data":{"name":"brk_b_s"},"mark":{"type":"rule","color":"#000","strokeWidth":1.2},"encoding":{"x2":{"field":"x2"},"y":{"field":"y","type":"quantitative","scale":{"domain":[-11.6,5.0],"nice":false,"zero":false}}}},
    {"data":{"name":"ann_b_s"},"mark":{"type":"text","color":"#000","baseline":"middle","dy":3},"encoding":{"y":{"field":"y","type":"quantitative","scale":{"domain":[-11.6,5.0],"nice":false,"zero":false}},"text":{"field":"label"},"size":{"condition":{"test":"datum.label === 'ns'","value":17},"value":14}}},
    {"data":{"name":"arr_b_s"},"mark":{"type":"point","shape":"M-0.45,-0.95L0.45,-0.95L0.45,0L1,0L0,0.95L-1,0L-0.45,0Z","size":400,"filled":true,"opacity":1,"strokeWidth":1.2},"encoding":{"y":{"field":"y","type":"quantitative","scale":{"domain":[-11.6,5.0],"nice":false,"zero":false}},"fill":{"field":"kind","type":"nominal","scale":{"domain":["short","none","medium","long"],"range":["#fc9a80","#ffffff","#e3302a","#6a0613"]},"legend":null},"stroke":{"field":"kind","type":"nominal","scale":{"domain":["short","none","medium","long"],"range":["#fc9a80","#000000","#e3302a","#6a0613"]},"legend":null}}}
   ]},
  {"width":500,"height":105,
   "encoding":{"x":{"field":"x","type":"quantitative","scale":{"domain":[1.43,50],"nice":false,"zero":false},"axis":{"values":[10,20,30,40,50],"labels":false,"title":null}}},
   "layer":[
    {"data":{"values":[{}]},"mark":{"type":"rule","color":"#808080","strokeWidth":2,"strokeDash":[7,4]},"encoding":{"x":null,"y":{"datum":0,"type":"quantitative","scale":{"domain":[-11.2,5.0],"nice":false,"zero":false},"axis":{"values":[-10,0],"title":null}}}},
    {"data":{"name":"b_o"},"mark":{"type":"line","color":"#f9a73e","strokeWidth":2},"encoding":{"y":{"field":"m","type":"quantitative","scale":{"domain":[-11.2,5.0],"nice":false,"zero":false},"axis":{"values":[-10,0],"title":null}}}},
    {"data":{"name":"b_o"},"mark":{"type":"errorbar","ticks":{"size":12},"thickness":2,"color":"#f9a73e"},"encoding":{"y":{"field":"lo","type":"quantitative","scale":{"domain":[-11.2,5.0],"nice":false,"zero":false},"axis":{"values":[-10,0],"title":null}},"y2":{"field":"hi"}}},
    {"data":{"name":"brk_b_o"},"mark":{"type":"rule","color":"#000","strokeWidth":1.2},"encoding":{"x2":{"field":"x2"},"y":{"field":"y","type":"quantitative","scale":{"domain":[-11.2,5.0],"nice":false,"zero":false}}}},
    {"data":{"name":"ann_b_o"},"mark":{"type":"text","color":"#000","baseline":"middle","dy":3},"encoding":{"y":{"field":"y","type":"quantitative","scale":{"domain":[-11.2,5.0],"nice":false,"zero":false}},"text":{"field":"label"},"size":{"condition":{"test":"datum.label === 'ns'","value":17},"value":14}}},
    {"data":{"name":"arr_b_o"},"mark":{"type":"point","shape":"M-0.45,-0.95L0.45,-0.95L0.45,0L1,0L0,0.95L-1,0L-0.45,0Z","size":400,"filled":true,"opacity":1,"strokeWidth":1.2},"encoding":{"y":{"field":"y","type":"quantitative","scale":{"domain":[-11.2,5.0],"nice":false,"zero":false}},"fill":{"field":"kind","type":"nominal","scale":{"domain":["short","none","medium","long"],"range":["#fc9a80","#ffffff","#e3302a","#6a0613"]},"legend":null},"stroke":{"field":"kind","type":"nominal","scale":{"domain":["short","none","medium","long"],"range":["#fc9a80","#000000","#e3302a","#6a0613"]},"legend":null}}}
   ]}
 ]},
 {"spacing":9,
  "resolve":{"scale":{"color":"independent","fill":"independent","stroke":"independent"},"legend":{"color":"independent","fill":"independent","stroke":"independent"}},
  "vconcat":[
  {"spacing":147,"bounds":"flush","title":{"text":"task feedback interval (% (s))","orient":"bottom","anchor":"middle","frame":"bounds","dx":60,"fontSize":17,"offset":9},
   "hconcat":[
   {"width":495,"height":105,"title":{"text":"c","anchor":"start","frame":"group","dx":-108,"fontWeight":"bold","fontSize":20,"offset":-2},
    "layer":[
     {"encoding":{"x":{"field":"x","type":"quantitative","scale":{"domain":[8,52],"nice":false,"zero":false},"axis":{"values":[10,20,30,40,50],"labelExpr":"datum.value + '%'","title":null,"orient":"bottom","labelPadding":1}}},
      "layer":[
      {"data":{"values":[{}]},"mark":{"type":"rule","color":"#808080","strokeWidth":2,"strokeDash":[7,4]},"encoding":{"x":null,"y":{"datum":0,"type":"quantitative","scale":{"domain":[-5.62,6.06],"nice":false,"zero":false},"axis":{"values":[-5,0,5],"title":["Δ training","error"],"titleFontSize":18,"titleLineHeight":25,"titlePadding":11}}}},
      {"data":{"name":"c_s"},"mark":{"type":"line","color":"#f9a73e","strokeWidth":2},"encoding":{"y":{"field":"m","type":"quantitative","scale":{"domain":[-5.62,6.06],"nice":false,"zero":false},"axis":{"values":[-5,0,5],"title":["Δ training","error"],"titleFontSize":18,"titleLineHeight":25,"titlePadding":11}}}},
      {"data":{"name":"c_s"},"mark":{"type":"errorbar","ticks":{"size":12},"thickness":2,"color":"#f9a73e"},"encoding":{"y":{"field":"lo","type":"quantitative","scale":{"domain":[-5.62,6.06],"nice":false,"zero":false},"axis":{"values":[-5,0,5],"title":["Δ training","error"],"titleFontSize":18,"titleLineHeight":25,"titlePadding":11}},"y2":{"field":"hi"}}},
      {"data":{"name":"ann_c_s"},"mark":{"type":"text","color":"#000","baseline":"middle","dy":3},"encoding":{"y":{"field":"y","type":"quantitative","scale":{"domain":[-5.62,6.06],"nice":false,"zero":false}},"text":{"field":"label"},"size":{"condition":{"test":"datum.label === 'ns'","value":17},"value":14}}}
     ]},
     {"data":{"name":"c_s"},"mark":{"type":"point","opacity":0},"encoding":{"x":{"field":"x","type":"quantitative","scale":{"domain":[8,52],"nice":false,"zero":false},"axis":{"orient":"bottom","values":[10,20,30,40,50],"labelExpr":"'(' + format(datum.value/100, '.1f') + ')'","ticks":false,"domain":false,"labelPadding":28,"labelFontSize":13,"title":null}},"y":{"field":"m","type":"quantitative","scale":{"domain":[-5.62,6.06],"nice":false,"zero":false},"axis":{"values":[-5,0,5],"title":["Δ training","error"],"titleFontSize":18,"titleLineHeight":25,"titlePadding":11}}}}
    ],
    "resolve":{"axis":{"x":"independent"}}},
   {"width":500,"height":105,
    "layer":[
     {"encoding":{"x":{"field":"x","type":"quantitative","scale":{"domain":[1.43,50],"nice":false,"zero":false},"axis":{"values":[10,20,30,40,50],"labelExpr":"datum.value + '%'","title":null,"orient":"bottom","labelPadding":1}}},
      "layer":[
      {"data":{"values":[{}]},"mark":{"type":"rule","color":"#808080","strokeWidth":2,"strokeDash":[7,4]},"encoding":{"x":null,"y":{"datum":0,"type":"quantitative","scale":{"domain":[-9.35,1.08],"nice":false,"zero":false},"axis":{"values":[-5,0],"title":null}}}},
      {"data":{"name":"c_o"},"mark":{"type":"line","color":"#f9a73e","strokeWidth":2},"encoding":{"y":{"field":"m","type":"quantitative","scale":{"domain":[-9.35,1.08],"nice":false,"zero":false},"axis":{"values":[-5,0],"title":null}}}},
      {"data":{"name":"c_o"},"mark":{"type":"errorbar","ticks":{"size":12},"thickness":2,"color":"#f9a73e"},"encoding":{"y":{"field":"lo","type":"quantitative","scale":{"domain":[-9.35,1.08],"nice":false,"zero":false},"axis":{"values":[-5,0],"title":null}},"y2":{"field":"hi"}}},
      {"data":{"name":"brk_c_o"},"mark":{"type":"rule","color":"#000","strokeWidth":1.2},"encoding":{"x2":{"field":"x2"},"y":{"field":"y","type":"quantitative","scale":{"domain":[-9.35,1.08],"nice":false,"zero":false}}}},
      {"data":{"name":"ann_c_o"},"mark":{"type":"text","color":"#000","baseline":"middle","dy":3},"encoding":{"y":{"field":"y","type":"quantitative","scale":{"domain":[-9.35,1.08],"nice":false,"zero":false}},"text":{"field":"label"},"size":{"condition":{"test":"datum.label === 'ns'","value":17},"value":14}}}
     ]},
     {"data":{"name":"c_o"},"mark":{"type":"point","opacity":0},"encoding":{"x":{"field":"x","type":"quantitative","scale":{"domain":[1.43,50],"nice":false,"zero":false},"axis":{"orient":"bottom","values":[10,20,30,40,50],"labelExpr":"'(' + format(datum.value*0.028, '.3~g') + ')'","ticks":false,"domain":false,"labelPadding":28,"labelFontSize":13,"title":null}},"y":{"field":"m","type":"quantitative","scale":{"domain":[-9.35,1.08],"nice":false,"zero":false},"axis":{"values":[-5,0],"title":null}}}}
    ],
    "resolve":{"axis":{"x":"independent"}}}
  ]},
  {"spacing":32,
   "resolve":{"scale":{"color":"independent"},"legend":{"color":"independent"}},
   "hconcat":[
   {"spacing":137,"bounds":"flush","resolve":{"scale":{"color":"independent"},"legend":{"color":"independent"}},"hconcat":[
    {"width":163,"height":140,"title":{"text":"d","anchor":"start","frame":"group","dx":-108,"fontWeight":"bold","fontSize":20,"offset":2},"data":{"name":"h1"},
     "layer":[
      {"mark":{"type":"rect","stroke":"#ffffff","strokeWidth":1},"encoding":{
        "x":{"field":"fx","type":"ordinal","sort":["0.1","0.2","0.3","0.4","0.5"],"scale":{"padding":0},"axis":{"title":"task feedback interval (s)","titleFontSize":15,"labelFontSize":15,"labelAngle":-90,"labelAlign":"right","labelBaseline":"middle","domain":false,"titlePadding":6}},
        "y":{"field":"hz","type":"ordinal","sort":"descending","scale":{"padding":0},"axis":{"title":["cerebral feedback","horizon (s)"],"titleFontSize":15,"titleLineHeight":23,"labelFontSize":15,"domain":false}},
        "color":{"field":"v","type":"quantitative","scale":{"domain":[0.27,1,2.06],"range":["#f7a632","#ffffff","#999999"],"interpolate":"rgb"},"legend":{"title":null,"orient":"none","legendX":177,"legendY":0,"direction":"vertical","padding":0,"gradientLength":140,"gradientThickness":9,"values":[0.5,1.0,1.5,2.0],"format":".1f","labelOffset":6}}}},
      {"mark":{"type":"rect","opacity":0},"encoding":{
        "x":{"field":"fx","type":"ordinal","sort":["0.1","0.2","0.3","0.4","0.5"],"scale":{"padding":0}},
        "y":{"field":"hz","type":"ordinal","sort":"descending","scale":{"padding":0},"axis":{"orient":"right","title":"norm. dysmetria score","titleAngle":270,"titleFontSize":15,"labels":false,"ticks":false,"domain":false,"offset":79,"titlePadding":0}}}}
     ],
     "resolve":{"axis":{"y":"independent"}}},
    {"width":163,"height":140,"data":{"name":"h2"},
     "layer":[
      {"mark":{"type":"rect","stroke":"#ffffff","strokeWidth":1},"encoding":{
        "x":{"field":"fx","type":"ordinal","sort":["0.1","0.2","0.3","0.4","0.5"],"scale":{"padding":0},"axis":{"title":"task feedback interval (s)","titleFontSize":15,"labelFontSize":15,"labelAngle":-90,"labelAlign":"right","labelBaseline":"middle","domain":false,"titlePadding":6}},
        "y":{"field":"hz","type":"ordinal","sort":"descending","scale":{"padding":0},"axis":{"title":null,"labels":false,"domain":false}},
        "color":{"field":"v","type":"quantitative","scale":{"domain":[0.47,1,6.32],"range":["#f7a632","#ffffff","#999999"],"interpolate":"rgb"},"legend":{"title":null,"orient":"none","legendX":177,"legendY":0,"direction":"vertical","padding":0,"gradientLength":140,"gradientThickness":9,"values":[1,3,5],"format":"d","labelOffset":6}}}},
      {"mark":{"type":"rect","opacity":0},"encoding":{
        "x":{"field":"fx","type":"ordinal","sort":["0.1","0.2","0.3","0.4","0.5"],"scale":{"padding":0}},
        "y":{"field":"hz","type":"ordinal","sort":"descending","scale":{"padding":0},"axis":{"orient":"right","title":"norm. training error","titleAngle":270,"titleFontSize":15,"labels":false,"ticks":false,"domain":false,"offset":72,"titlePadding":0}}}}
     ],
     "resolve":{"axis":{"y":"independent"}}}
   ]},
   {"spacing":125,"bounds":"flush","resolve":{"scale":{"color":"independent"},"legend":{"color":"independent"}},"hconcat":[
    {"width":168,"height":140,"data":{"name":"h3"},
     "layer":[
      {"mark":{"type":"rect","stroke":"#ffffff","strokeWidth":1},"encoding":{
        "x":{"field":"fx","type":"ordinal","sort":["0.1","0.2","0.3","0.4","0.5","0.8","1.0","1.3"],"scale":{"padding":0},"axis":{"title":"task feedback interval (s)","titleFontSize":15,"labelFontSize":15,"labelAngle":-90,"labelAlign":"right","labelBaseline":"middle","domain":false,"titlePadding":6}},
        "y":{"field":"hz","type":"ordinal","sort":"descending","scale":{"padding":0},"axis":{"title":["cerebral feedback","horizon (s)"],"titleFontSize":15,"titleLineHeight":23,"labelFontSize":15,"domain":false}},
        "color":{"field":"v","type":"quantitative","scale":{"domain":[0.73,1,1.41],"range":["#f7a632","#ffffff","#999999"],"interpolate":"rgb"},"legend":{"title":null,"orient":"none","legendX":176,"legendY":0,"direction":"vertical","padding":0,"gradientLength":140,"gradientThickness":9,"values":[0.8,1.0,1.2],"format":".1f","labelOffset":6}}}},
      {"mark":{"type":"rect","opacity":0},"encoding":{
        "x":{"field":"fx","type":"ordinal","sort":["0.1","0.2","0.3","0.4","0.5","0.8","1.0","1.3"],"scale":{"padding":0}},
        "y":{"field":"hz","type":"ordinal","sort":"descending","scale":{"padding":0},"axis":{"orient":"right","title":"norm. dysmetria score","titleAngle":270,"titleFontSize":15,"labels":false,"ticks":false,"domain":false,"offset":75,"titlePadding":0}}}}
     ],
     "resolve":{"axis":{"y":"independent"}}},
    {"width":168,"height":140,"data":{"name":"h4"},
     "layer":[
      {"mark":{"type":"rect","stroke":"#ffffff","strokeWidth":1},"encoding":{
        "x":{"field":"fx","type":"ordinal","sort":["0.1","0.2","0.3","0.4","0.5","0.8","1.0","1.3"],"scale":{"padding":0},"axis":{"title":"task feedback interval (s)","titleFontSize":15,"labelFontSize":15,"labelAngle":-90,"labelAlign":"right","labelBaseline":"middle","domain":false,"titlePadding":6}},
        "y":{"field":"hz","type":"ordinal","sort":"descending","scale":{"padding":0},"axis":{"title":null,"labels":false,"domain":false}},
        "color":{"field":"v","type":"quantitative","scale":{"domain":[0.63,1,1.39],"range":["#f7a632","#ffffff","#999999"],"interpolate":"rgb"},"legend":{"title":null,"orient":"none","legendX":176,"legendY":0,"direction":"vertical","padding":0,"gradientLength":140,"gradientThickness":9,"values":[0.8,1.0,1.2],"format":".1f","labelOffset":6}}}},
      {"mark":{"type":"rect","opacity":0},"encoding":{
        "x":{"field":"fx","type":"ordinal","sort":["0.1","0.2","0.3","0.4","0.5","0.8","1.0","1.3"],"scale":{"padding":0}},
        "y":{"field":"hz","type":"ordinal","sort":"descending","scale":{"padding":0},"axis":{"orient":"right","title":"norm. training error","titleAngle":270,"titleFontSize":15,"labels":false,"ticks":false,"domain":false,"offset":72,"titlePadding":0}}}}
     ],
     "resolve":{"axis":{"y":"independent"}}}
   ]}
  ]}
 ]}
]}
]
}
